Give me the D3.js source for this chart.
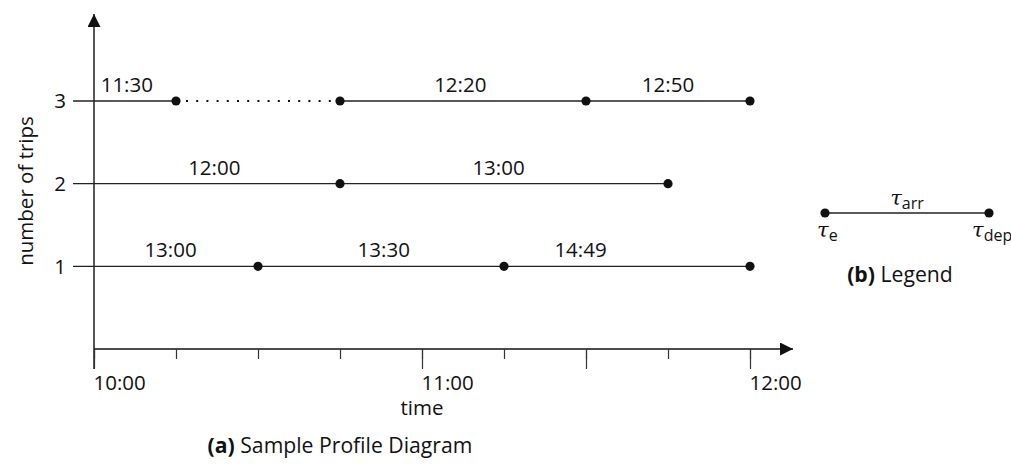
<!DOCTYPE html>
<html>
<head>
<meta charset="utf-8">
<script src="https://cdn.jsdelivr.net/npm/d3@7"></script>
<style>
	body { margin: 0; background: #fff; }
	svg { font-family: "Open Sans", sans-serif; }
	text { fill: #111; }
</style>
</head>
<body>
<svg class="chart" width="1011" height="466"></svg>
<script>
// data
var rowTrips = [3, 2, 1];
var rowPoints = [
	["10:15", "10:45", "11:30", "12:00"],
	["10:45", "11:45"],
	["10:30", "11:15", "12:00"]
];
var rowLabels = [
	["11:30", "12:20", "12:50"],
	["12:00", "13:00"],
	["13:00", "13:30", "14:49"]
];
var rowLabelAt = [
	["10:06", "11:07", "11:45"],
	["10:22", "11:14"],
	["10:14", "10:53", "11:29"]
];
// waiting segment (dotted) on the row with 3 trips
var dottedFrom = "10:15", dottedTo = "10:45";
var tickTimes = ["10:00", "10:15", "10:30", "10:45", "11:00", "11:15", "11:30", "11:45", "12:00"];
var longTicks = ["10:00", "11:00", "11:30", "12:00"];
var tickLabels = ["10:00", "11:00", "12:00"];

var parse = d3.timeParse("%H:%M");
var fmt = d3.timeFormat("%H:%M");

var svg = d3.select("svg.chart");
var ink = "#111";
var fs = 20.5;

// scales
var x = d3.scaleTime()
	.domain([parse("10:00"), parse("12:00")])
	.range([94, 750]);
var y = d3.scaleLinear()
	.domain([0, 3])
	.range([349, 101]);

// arrow marker
svg.append("defs").append("marker")
	.attr("id", "arrow")
	.attr("viewBox", "0 0 10 10")
	.attr("refX", 10).attr("refY", 5)
	.attr("markerWidth", 18).attr("markerHeight", 13)
	.attr("markerUnits", "userSpaceOnUse")
	.attr("orient", "auto")
	.append("path")
	.attr("d", "M0,0L10,5L0,10Z")
	.attr("fill", ink);

// axes lines with arrows
svg.append("line")
	.attr("x1", x.range()[0]).attr("x2", 793)
	.attr("y1", y(0)).attr("y2", y(0))
	.attr("stroke", ink).attr("stroke-width", 1.4)
	.attr("marker-end", "url(#arrow)");
svg.append("line")
	.attr("x1", x.range()[0]).attr("x2", x.range()[0])
	.attr("y1", y(0) + 20).attr("y2", 14)
	.attr("stroke", ink).attr("stroke-width", 1.4)
	.attr("marker-end", "url(#arrow)");

// x ticks
var xAxis = d3.axisBottom(x)
	.tickValues(tickTimes.map(parse))
	.tickSize(10)
	.tickFormat("");
svg.append("g")
	.attr("transform", "translate(0," + y(0) + ")")
	.call(xAxis)
	.call(function(g) { g.select(".domain").remove(); })
	.selectAll("line").attr("stroke", "#333").attr("stroke-width", 1.2);

var xAxisLong = d3.axisBottom(x)
	.tickValues(longTicks.map(parse))
	.tickSize(20)
	.tickPadding(6)
	.tickFormat(function(d) {
		return tickLabels.indexOf(fmt(d)) >= 0 ? fmt(d) : "";
	});
var gLong = svg.append("g")
	.attr("transform", "translate(0," + y(0) + ")")
	.call(xAxisLong)
	.call(function(g) { g.select(".domain").remove(); });
gLong.selectAll("line").attr("stroke", "#333").attr("stroke-width", 1.2);
gLong.selectAll("text")
	.attr("text-anchor", "start")
	.attr("x", -1)
	.attr("font-size", fs)
	.attr("font-family", "Open Sans")
	.attr("fill", ink);

// y axis ticks and row lines
var rows = svg.selectAll("g.row")
	.data(rowTrips)
	.enter()
	.append("g")
	.attr("class", "row");

rows.append("line")
	.attr("x1", x.range()[0] - 21)
	.attr("x2", function(d, i) { return x(parse(rowPoints[i][rowPoints[i].length - 1])); })
	.attr("y1", function(d) { return y(d); })
	.attr("y2", function(d) { return y(d); })
	.attr("stroke", "#222")
	.attr("stroke-width", 1.3);

rows.append("text")
	.attr("x", x.range()[0] - 28)
	.attr("y", function(d) { return y(d); })
	.attr("dy", "0.35em")
	.attr("text-anchor", "end")
	.attr("font-size", fs)
	.text(function(d) { return d; });

// dotted waiting segment: white out the solid line and draw dots
svg.append("line")
	.attr("x1", x(parse(dottedFrom))).attr("x2", x(parse(dottedTo)))
	.attr("y1", y(3)).attr("y2", y(3))
	.attr("stroke", "#fff").attr("stroke-width", 3);
svg.append("line")
	.attr("x1", x(parse(dottedFrom)) + 10).attr("x2", x(parse(dottedTo)))
	.attr("y1", y(3)).attr("y2", y(3))
	.attr("stroke", ink).attr("stroke-width", 2)
	.attr("stroke-dasharray", "2,8.2");

// points and segment labels
var marks = svg.append("g");
rowTrips.forEach(function(d, i) {
	marks.selectAll("circle.r" + i)
		.data(rowPoints[i])
		.enter()
		.append("circle")
		.attr("class", "r" + i)
		.attr("cx", function(t) { return x(parse(t)); })
		.attr("cy", y(d))
		.attr("r", 4.6)
		.attr("fill", ink);
	marks.selectAll("text.r" + i)
		.data(rowLabels[i])
		.enter()
		.append("text")
		.attr("class", "r" + i)
		.attr("x", function(t, j) { return x(parse(rowLabelAt[i][j])); })
		.attr("y", y(d) - 9)
		.attr("text-anchor", "middle")
		.attr("font-size", fs)
		.text(function(t) { return t; });
});

// axis titles
svg.append("text")
	.attr("x", x(parse("11:00")))
	.attr("y", 415)
	.attr("text-anchor", "middle")
	.attr("font-size", fs)
	.text("time");
svg.append("text")
	.attr("transform", "translate(33,191) rotate(-90)")
	.attr("text-anchor", "middle")
	.attr("font-size", fs)
	.text("number of trips");

// caption (a)
var capA = svg.append("text")
	.attr("x", 340)
	.attr("y", 453)
	.attr("text-anchor", "middle")
	.attr("font-size", 21.2);
capA.append("tspan").attr("font-weight", "bold").text("(a)");
capA.append("tspan").text(" Sample Profile Diagram");

// legend
var legend = svg.append("g");
var lx0 = 825, lx1 = 989, ly = 213;
legend.append("line")
	.attr("x1", lx0).attr("x2", lx1)
	.attr("y1", ly).attr("y2", ly)
	.attr("stroke", "#222").attr("stroke-width", 1.3);
legend.selectAll("circle")
	.data([lx0, lx1])
	.enter()
	.append("circle")
	.attr("cx", function(d) { return d; })
	.attr("cy", ly)
	.attr("r", 4.6)
	.attr("fill", ink);

function tau(xpos, ypos, sub, anchor) {
	var t = legend.append("text")
		.attr("x", xpos).attr("y", ypos)
		.attr("text-anchor", anchor)
		.attr("font-size", 21);
	t.append("tspan").attr("font-family", "DejaVu Serif").attr("font-style", "italic").text("τ");
	t.append("tspan").attr("font-size", 16).attr("dy", 4).text(sub);
}
tau((lx0 + lx1) / 2, ly - 8, "arr", "middle");
tau(lx0 - 8, ly + 24, "e", "start");
tau(lx1 - 17, ly + 24, "dep", "start");

var capB = legend.append("text")
	.attr("x", 900)
	.attr("y", 282)
	.attr("text-anchor", "middle")
	.attr("font-size", 21.2);
capB.append("tspan").attr("font-weight", "bold").text("(b)");
capB.append("tspan").text(" Legend");
</script>
</body>
</html>
